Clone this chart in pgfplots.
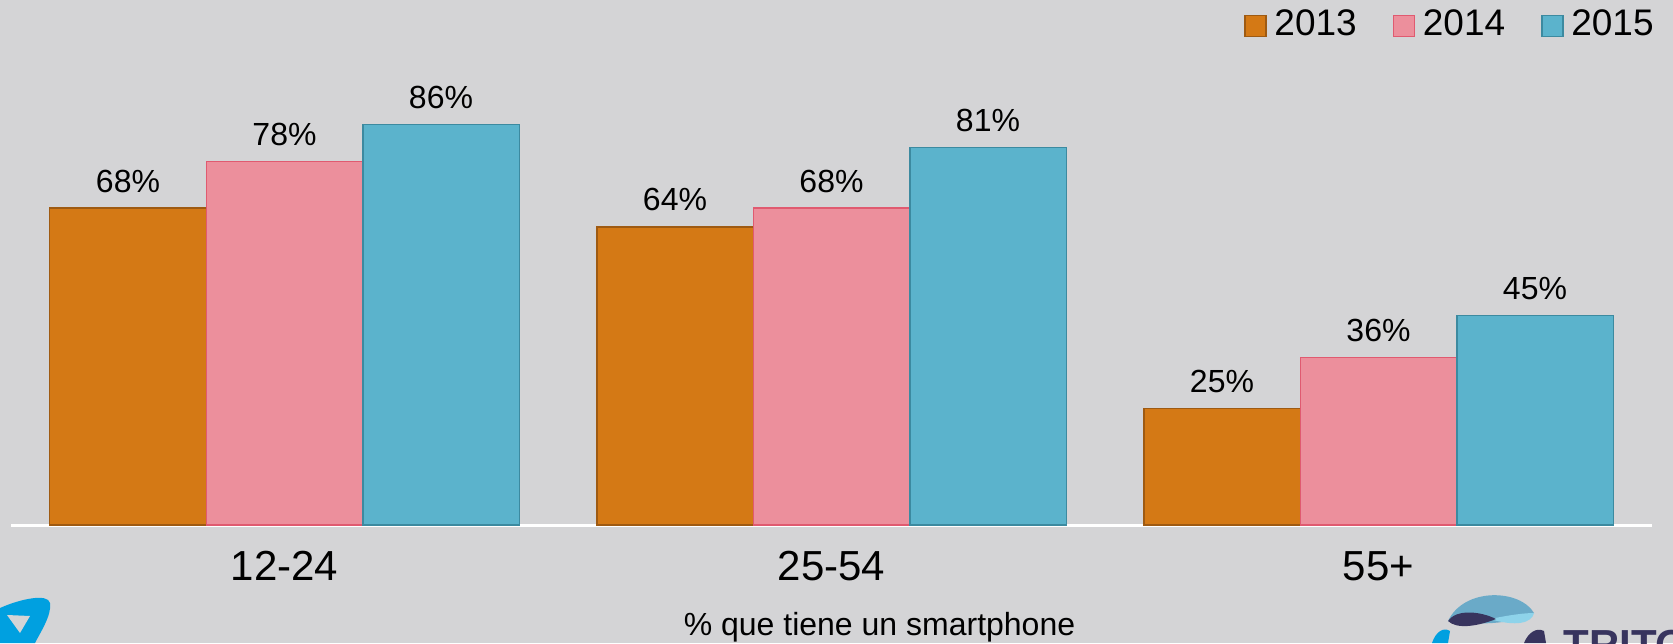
\documentclass[border=0pt]{standalone}
\usepackage{pgfplots}
\pgfplotsset{compat=1.18}
\usepackage{fontspec}
\setmainfont{Liberation Sans}
\definecolor{bgc}{HTML}{D4D4D6}
\definecolor{c13}{HTML}{D47915}
\definecolor{c13d}{HTML}{9E5A12}
\definecolor{c14}{HTML}{EC8F9C}
\definecolor{c14d}{HTML}{E05A70}
\definecolor{c15}{HTML}{5BB3CC}
\definecolor{c15d}{HTML}{3C8AA0}
\definecolor{logoblue}{HTML}{00A0E0}
\definecolor{navy}{HTML}{38345E}
\definecolor{midblue}{HTML}{6AAAC8}
\definecolor{lightblue}{HTML}{8ED3EA}

\begin{document}
\begin{tikzpicture}[x=1pt,y=1pt]
\clip (0,0) rectangle (836.5,321.5);
\fill[bgc] (0,0) rectangle (836.5,321.5);
% logos (rough)
\fill[logoblue] (0,17.5) .. controls (10,22) and (24,25) .. (25,20) .. controls (26,14) and (20,5) .. (17.5,0) -- (0,0) -- cycle;
\fill[bgc] (3.5,14) -- (15,13.5) -- (10,5) -- cycle;
\fill[midblue] (724,11) .. controls (732,28) and (760,27) .. (767,15) .. controls (755,9) and (738,9) .. (724,11) -- cycle;
\fill[lightblue] (745,12) .. controls (755,14) and (762,15) .. (767,15) .. controls (766,10) and (758,8) .. (745,12) -- cycle;
\fill[navy] (724,11) .. controls (728,17) and (740,16) .. (748,12) .. controls (738,8) and (728,7) .. (724,11) -- cycle;
\fill[logoblue] (716,0) .. controls (718,6) and (722,8) .. (725,6) -- (724,0) -- cycle;
\fill[navy] (762,0) .. controls (764,5) and (768,8) .. (772,6) -- (773,0) -- cycle;
\node[anchor=north west, inner sep=0pt, text=navy, font=\bfseries\fontsize{21}{24}\selectfont] at (781.5,6.5) {TRITON};

\begin{axis}[
  at={(5.5pt,59pt)}, anchor=south west, scale only axis,
  width=820.5pt, height=262.5pt,
  xmin=-0.5, xmax=2.5, ymin=0, ymax=112.7,
  ybar=0pt, bar width=78.25pt,
  axis x line=bottom, axis y line=none,
  x axis line style={white, line width=1.5pt, -},
  xtick={0,1,2}, xticklabels={12-24,25-54,55+}, major tick length=0pt,
  xticklabel style={font=\fontsize{21}{25}\selectfont, anchor=base, yshift=-27.5pt},
  xlabel={\% que tiene un smartphone},
  xlabel style={font=\fontsize{16}{19}\selectfont, at={(axis description cs:0.5,0)}, anchor=base, yshift=-55.2pt, xshift=24pt},
  /pgf/number format/assume math mode=true,
  nodes near coords={\pgfmathprintnumber{\pgfplotspointmeta}\%},
  every node near coord/.append style={font=\fontsize{16}{19}\selectfont, anchor=base, yshift=8pt, text=black},
  clip=false,
  legend columns=3,
  legend image code/.code={\draw[#1, line width=0.75pt] (0pt,-6.25pt) rectangle (10.5pt,4.25pt);},
  legend style={at={(1,1)}, anchor=north east, xshift=1pt, yshift=-4.5pt, draw=none, fill=none, inner sep=0pt,
    font=\fontsize{18.5}{22}\selectfont, nodes={inner sep=0pt},
    /tikz/every odd column/.append style={column sep=3.8pt},
    /tikz/every even column/.append style={column sep=18pt}},
]
\addplot[fill=c13, draw=c13d, line width=0.75pt] coordinates {(0,68) (1,64) (2,25)};
\addplot[fill=c14, draw=c14d, line width=0.75pt] coordinates {(0,78) (1,68) (2,36)};
\addplot[fill=c15, draw=c15d, line width=0.75pt] coordinates {(0,86) (1,81) (2,45)};
\legend{2013,2014,2015}
\end{axis}
\end{tikzpicture}
\end{document}
